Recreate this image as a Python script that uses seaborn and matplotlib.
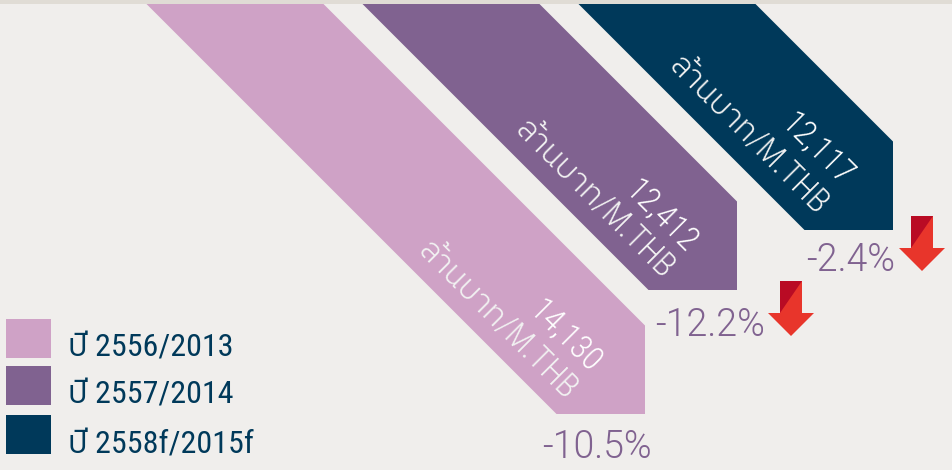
import matplotlib
matplotlib.use("Agg")
import matplotlib.pyplot as plt
import pandas as pd
import seaborn as sns
from matplotlib.patches import Polygon, Rectangle
from matplotlib.transforms import Affine2D, Bbox

# data
years = ["ปี 2556/2013", "ปี 2557/2014", "ปี 2558f/2015f"]
values = ["14,130", "12,412", "12,117"]
changes = ["-10.5%", "-12.2%", "-2.4%"]
unit = "ล้านบาท/M.THB"
# the picture is not to scale, so these are the drawn lengths
drawn_length = [410, 286, 226]

pink, purple, navy = "#CFA2C6", "#806290", "#00395A"
colors = [pink, purple, navy]
bg = "#F0EEEC"

sns.set_theme(style="white")
plt.rcParams["font.family"] = ["Roboto Condensed", "IBM Plex Sans Thai", "DejaVu Sans"]

fig = plt.figure(figsize=(9.52, 4.7), dpi=100, facecolor=bg)
ax = fig.add_axes([0, 0, 1, 1])
df = pd.DataFrame({"year": years, "length": drawn_length})
sns.barplot(data=df, x="year", y="length", hue="year", palette=colors, saturation=1,
            width=177 / 216, linewidth=0, legend=False, ax=ax)
ax.set_xlim(-235 / 216, (952 - 235) / 216)
ax.set_ylim(466, -4)
ax.set_facecolor(bg)
ax.axis("off")

# lean the bars 45 degrees and cut the end with a vertical line
fig.canvas.draw()
shear = Affine2D.from_values(1, 0, -1, 1, 466, 0)
for bar, n in zip(ax.patches, drawn_length):
    left = ax.transData.transform((bar.get_x(), 0))[0]
    w = ax.transData.transform((bar.get_x() + bar.get_width(), 0))[0] - left
    bar.set_transform(ax.transData + shear)
    bar.set_clip_box(Bbox([[0, 0], [left + n + w / 2 - 0.5, 470]]))

# overlay in pixels for the text and arrows
ov = fig.add_axes([0, 0, 1, 1])
ov.set_xlim(0, 952)
ov.set_ylim(470, 0)
ov.axis("off")
ov.add_patch(Rectangle((0, 0), 952, 4, color="#E0DCD5", lw=0))

legend_y = [319, 366, 415]
legend_text_y = [348, 395, 445]
for y, ty, name, c in zip(legend_y, legend_text_y, years, colors):
    ov.add_patch(Rectangle((6, y), 45, 39, color=c, lw=0))
    ov.text(68, ty, name, color=navy, fontsize=23, va="center", ha="left")

value_pos = [(565, 336), (661, 216), (817, 149)]
unit_pos = [(497, 321), (594, 200), (748, 136)]
for v, (x, y), (ux, uy) in zip(values, value_pos, unit_pos):
    ov.text(x, y, v, color="white", fontsize=24, weight=300, rotation=-45,
            rotation_mode="anchor", ha="center", va="center")
    ov.text(ux, uy, unit, color="#F2F2F2", fontsize=24, weight=300, rotation=-45,
            rotation_mode="anchor", ha="center", va="center")

change_pos = [(597, 447), (710, 325), (851, 260)]
for c, (x, y) in zip(changes, change_pos):
    ov.text(x, y, c, color=purple, fontsize=27, family=["Roboto", "DejaVu Sans"],
            weight=300, ha="center", va="center")


def red_arrow(cx, top):
    ov.add_patch(Polygon([(cx - 11, top), (cx + 11, top), (cx + 11, top + 32), (cx + 23, top + 32),
                          (cx, top + 55), (cx - 23, top + 32), (cx - 11, top + 32)],
                         color="#E8352B", lw=0))
    ov.add_patch(Polygon([(cx - 11, top), (cx + 11, top), (cx - 11, top + 32)],
                         color="#B90B24", lw=0))


red_arrow(922, 216)
red_arrow(791, 281)

fig.savefig("out.png", dpi=100, facecolor=bg)
